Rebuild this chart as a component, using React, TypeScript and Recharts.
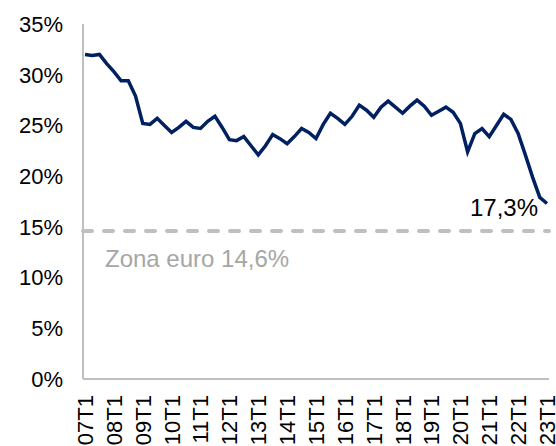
import { LineChart, Line, XAxis, YAxis, ReferenceLine, ReferenceDot, Label } from 'recharts'

// quarterly series, 2007 Q1 .. 2023 Q1
const years = ['07', '08', '09', '10', '11', '12', '13', '14', '15', '16', '17', '18', '19', '20', '21', '22', '23']
const quarters = ['T1', 'T2', 'T3', 'T4']
const periods = years.flatMap(y => quarters.map(q => y + q)).slice(0, 65)

const ratio = [
  32.0, 31.9, 32.0, 31.1,
  30.3, 29.4, 29.4, 27.9,
  25.2, 25.1, 25.7, 25.0,
  24.3, 24.8, 25.4, 24.8,
  24.7, 25.4, 25.9, 24.8,
  23.6, 23.5, 23.9, 23.0,
  22.1, 23.0, 24.1, 23.7,
  23.2, 23.9, 24.7, 24.3,
  23.7, 25.1, 26.2, 25.7,
  25.1, 25.9, 27.0, 26.5,
  25.8, 26.8, 27.4, 26.8,
  26.2, 26.9, 27.5, 26.9,
  26.0, 26.4, 26.8, 26.3,
  25.2, 22.4, 24.2, 24.7,
  23.9, 25.0, 26.1, 25.6,
  24.2, 22.1, 19.9, 17.9,
  17.3,
]

const yTicks = [0, 5, 10, 15, 20, 25, 30, 35]
const euroArea = 14.6
const lastLabel = '17,3%'
const euroLabel = 'Zona euro 14,6%'

const data = periods.map((p, i) => ({ period: p, value: ratio[i] }))

const FONT = '"Liberation Sans", Arial, sans-serif'
const GRID = '#BFBFBF'

function XTick({ x, y, payload }: { x?: number; y?: number; payload?: { value: string } }) {
  return (
    <text
      x={x} y={y} dy="0.36em" textAnchor="end"
      transform={`rotate(-90, ${x}, ${y})`}
      fill="#000" fontSize={22} fontFamily={FONT}
    >
      {payload?.value}
    </text>
  )
}

export default function App() {
  return (
    <div style={{ position: 'absolute', left: 0, top: 0, fontFamily: FONT }}>
      <LineChart width={556} height={446} data={data} margin={{ top: 24, right: 7, left: 0, bottom: 0 }}>
        <XAxis
          dataKey="period" interval={3} height={67}
          padding={{ left: 2, right: 2 }}
          tick={<XTick />} tickLine={false} tickSize={6} tickMargin={10}
          axisLine={{ stroke: GRID, strokeWidth: 2 }}
        />
        <XAxis xAxisId="top" orientation="top" dataKey="period" height={0}
          tick={false} tickLine={false} axisLine={{ stroke: GRID, strokeWidth: 2 }}
        />
        <YAxis
          domain={[0, 35]} ticks={yTicks} width={83}
          tickFormatter={v => `${v}%`}
          tick={{ fill: '#000', fontSize: 22, fontFamily: FONT }}
          tickLine={false} tickSize={8} tickMargin={12}
          axisLine={{ stroke: GRID, strokeWidth: 2 }}
        />
        <YAxis yAxisId="right" orientation="right" domain={[0, 35]} width={0}
          tick={false} tickLine={false} axisLine={{ stroke: GRID, strokeWidth: 2 }}
        />
        <ReferenceLine y={euroArea} stroke={GRID} strokeWidth={4} strokeDasharray="9 12" strokeLinecap="round">
          <Label
            content={(p: any) => (
              <text x={p.viewBox.x + 22} y={p.viewBox.y + 36} fill="#A6A6A6" fontSize={24} fontFamily={FONT}>
                {euroLabel}
              </text>
            )}
          />
        </ReferenceLine>
        <Line
          type="linear" dataKey="value" stroke="#002060" strokeWidth={3.5}
          dot={false} activeDot={false} isAnimationActive={false}
        />
        <ReferenceDot x={periods[periods.length - 1]} y={ratio[ratio.length - 1]} r={0} fill="none" stroke="none">
          <Label
            content={(p: any) => (
              <text x={p.viewBox.x - 9} y={p.viewBox.y + 12} textAnchor="end" fill="#000" fontSize={24} fontFamily={FONT}>
                {lastLabel}
              </text>
            )}
          />
        </ReferenceDot>
      </LineChart>
    </div>
  )
}
